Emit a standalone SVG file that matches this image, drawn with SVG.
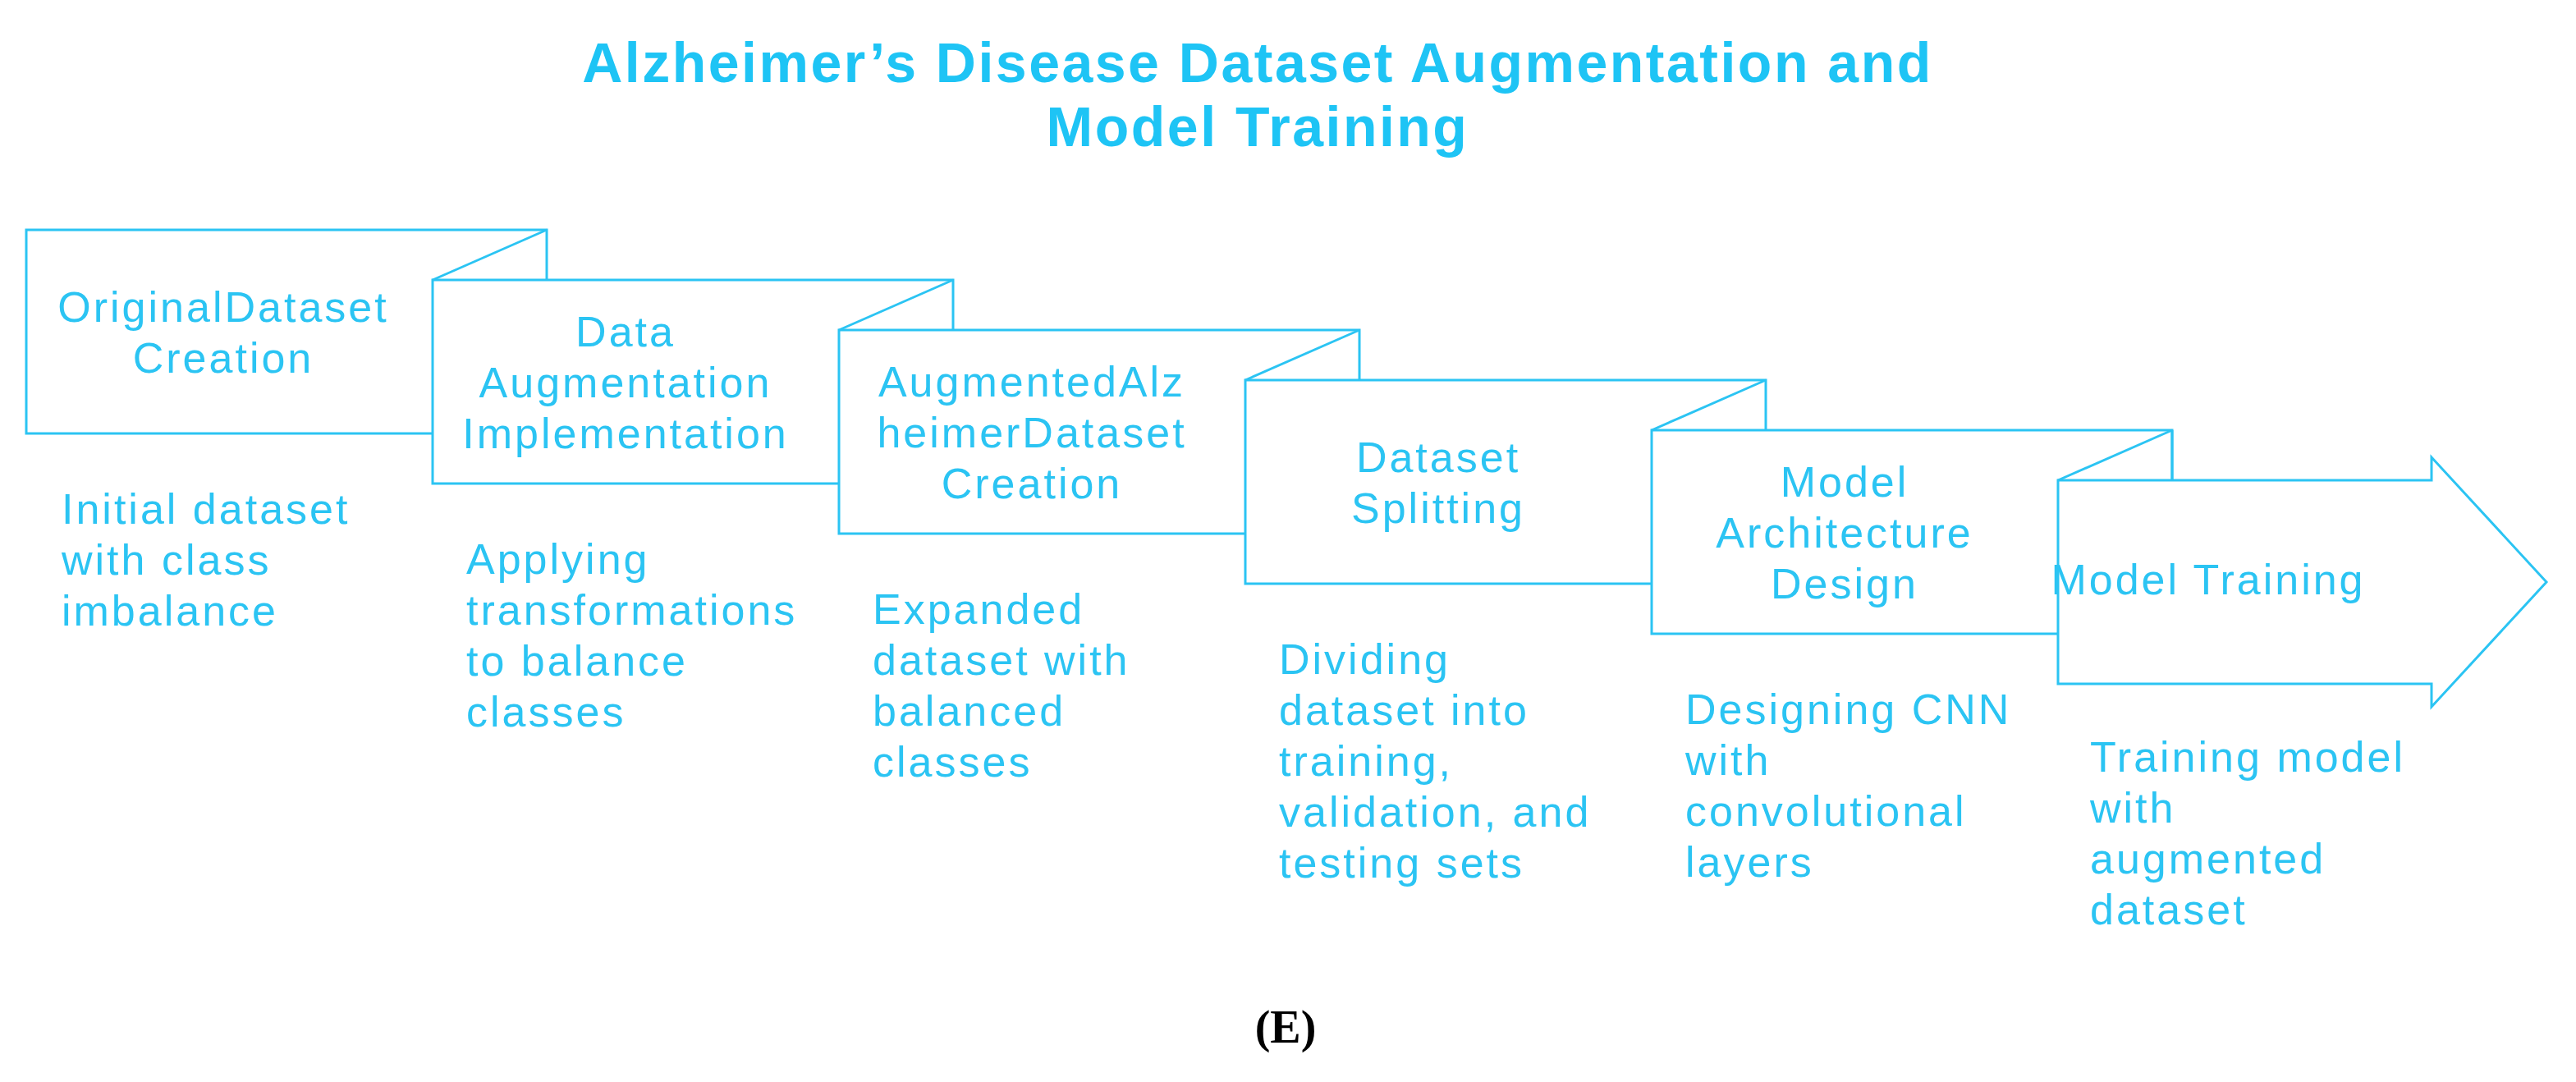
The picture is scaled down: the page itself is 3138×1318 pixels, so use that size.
<svg xmlns="http://www.w3.org/2000/svg" width="3138" height="1318" viewBox="0 0 3138 1318">
<style>
.s{fill:#fff;stroke:#2BC4F3;stroke-width:3}
.l{fill:none;stroke:#2BC4F3;stroke-width:3}
.t{font-family:"Liberation Sans",Arial,sans-serif;font-size:52px;letter-spacing:3px;fill:#2BC4F3}
.c{text-anchor:middle}
.h{font-family:"Liberation Sans",Arial,sans-serif;font-size:68px;font-weight:bold;fill:#1EC4F5;text-anchor:middle;letter-spacing:2.5px}
</style>
<rect width="3138" height="1318" fill="#fff"/>
<text class="h" x="1532" y="100">Alzheimer’s Disease Dataset Augmentation and</text>
<text class="h" x="1532" y="178">Model Training</text>
<g id="n1"><rect class="s" x="32" y="280" width="634" height="248"/>
<text class="t c"><tspan x="272" y="392">OriginalDataset</tspan><tspan x="272" y="454">Creation</tspan></text>
<text class="t"><tspan x="75" y="638">Initial dataset</tspan><tspan x="75" y="700">with class</tspan><tspan x="75" y="762">imbalance</tspan></text></g>
<g id="n2"><rect class="s" x="527" y="341" width="634" height="248"/><line class="l" x1="527" y1="341" x2="666" y2="280"/>
<text class="t c"><tspan x="762" y="422">Data</tspan><tspan x="762" y="484">Augmentation</tspan><tspan x="762" y="546">Implementation</tspan></text>
<text class="t"><tspan x="568" y="699">Applying</tspan><tspan x="568" y="761">transformations</tspan><tspan x="568" y="823">to balance</tspan><tspan x="568" y="885">classes</tspan></text></g>
<g id="n3"><rect class="s" x="1022" y="402" width="634" height="248"/><line class="l" x1="1022" y1="402" x2="1161" y2="341"/>
<text class="t c"><tspan x="1257" y="483">AugmentedAlz</tspan><tspan x="1257" y="545">heimerDataset</tspan><tspan x="1257" y="607">Creation</tspan></text>
<text class="t"><tspan x="1063" y="760">Expanded</tspan><tspan x="1063" y="822">dataset with</tspan><tspan x="1063" y="884">balanced</tspan><tspan x="1063" y="946">classes</tspan></text></g>
<g id="n4"><rect class="s" x="1517" y="463" width="634" height="248"/><line class="l" x1="1517" y1="463" x2="1656" y2="402"/>
<text class="t c"><tspan x="1752" y="575">Dataset</tspan><tspan x="1752" y="637">Splitting</tspan></text>
<text class="t"><tspan x="1558" y="821">Dividing</tspan><tspan x="1558" y="883">dataset into</tspan><tspan x="1558" y="945">training,</tspan><tspan x="1558" y="1007">validation, and</tspan><tspan x="1558" y="1069">testing sets</tspan></text></g>
<g id="n5"><rect class="s" x="2012" y="524" width="634" height="248"/><line class="l" x1="2012" y1="524" x2="2151" y2="463"/>
<text class="t c"><tspan x="2247" y="605">Model</tspan><tspan x="2247" y="667">Architecture</tspan><tspan x="2247" y="729">Design</tspan></text>
<text class="t"><tspan x="2053" y="882">Designing CNN</tspan><tspan x="2053" y="944">with</tspan><tspan x="2053" y="1006">convolutional</tspan><tspan x="2053" y="1068">layers</tspan></text></g>
<g id="n6"><line class="l" x1="2646" y1="524" x2="2646" y2="585"/>
<polygon class="s" points="2507,585 2962,585 2962,557 3102,709 2962,861 2962,833 2507,833"/><line class="l" x1="2507" y1="585" x2="2646" y2="524"/>
<text class="t" x="2690" y="724" text-anchor="middle" font-size="42" letter-spacing="1">Model Training</text>
<text class="t" font-size="44" letter-spacing="1"><tspan x="2546" y="940">Training model</tspan><tspan x="2546" y="1002">with</tspan><tspan x="2546" y="1064">augmented</tspan><tspan x="2546" y="1126">dataset</tspan></text></g>
<g id="connectors"/>
<text x="1566" y="1270" font-family="Liberation Serif,serif" font-weight="bold" font-size="56" text-anchor="middle" fill="#000">(E)</text>
</svg>
